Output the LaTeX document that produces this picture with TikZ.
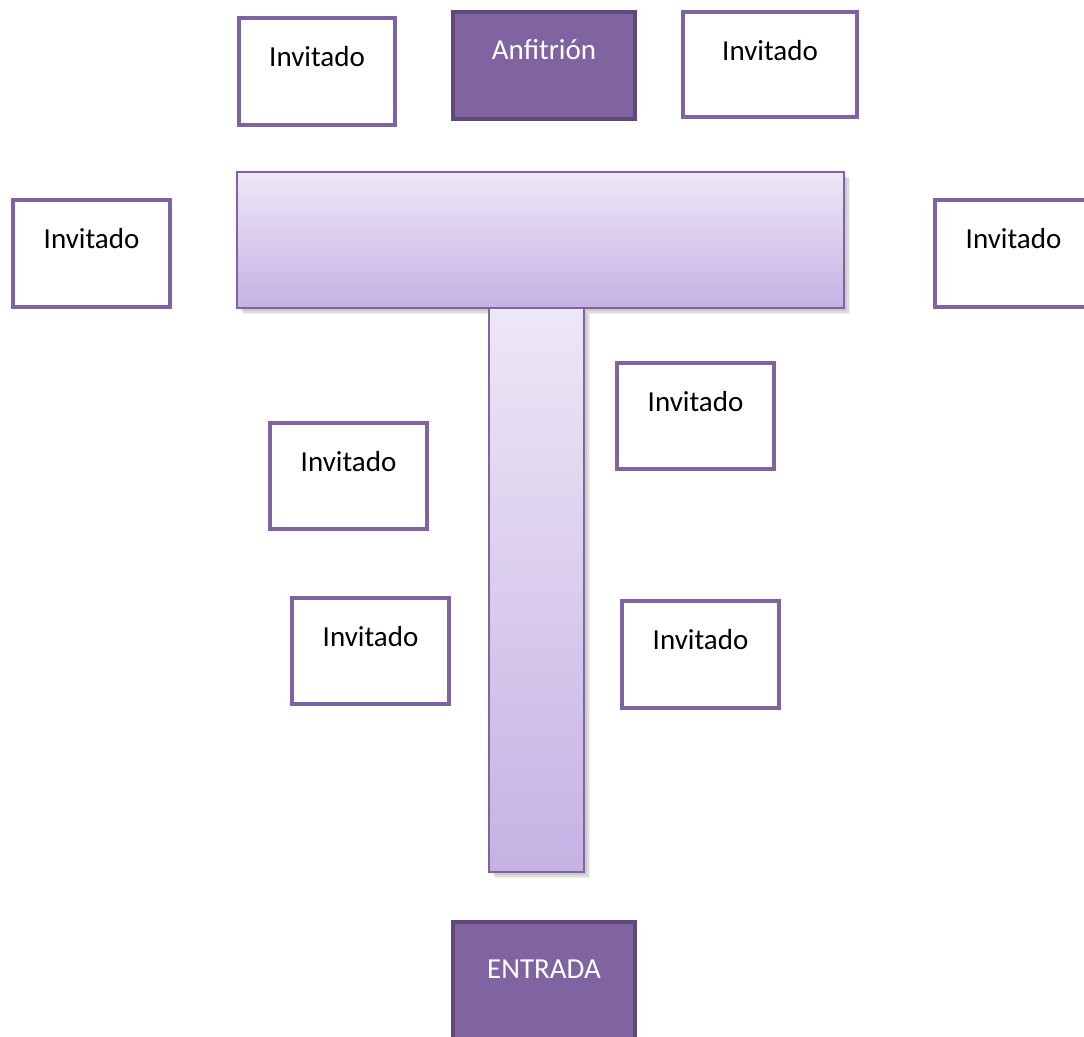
\documentclass[tikz,border=0pt]{standalone}
\usepackage{fontspec}
\setmainfont{Carlito}
\definecolor{purp}{HTML}{8064A2}
\definecolor{purpdark}{HTML}{5F497A}
\definecolor{lavtop}{HTML}{EEE7F6}
\definecolor{lavbot}{HTML}{C5B2E4}
\begin{document}
\begin{tikzpicture}[x=1pt,y=-1pt,
  txt/.style={font=\fontsize{29}{34}\selectfont, inner sep=0pt},
  guest/.style={draw=purp, line width=4.5pt, fill=white, rectangle,
    minimum width=157pt, minimum height=107pt, inner sep=0pt,
    label={[txt, anchor=center, yshift=-41pt]north:Invitado}},
  hostbox/.style={draw=purpdark, line width=4.5pt, fill=purp, rectangle,
    minimum width=182pt, minimum height=107pt, inner sep=0pt},
  tablepart/.style={draw=purp, line width=1.5pt, rectangle, inner sep=0pt,
    top color=lavtop, bottom color=lavbot},
  shade/.style={fill=black, opacity=0.07, draw=none}]
  \useasboundingbox (0,0) rectangle (1084,1036);
  \begin{scope}
  \clip (0,0) rectangle (1084,1036);

  % table shadow
  \foreach \d in {1,2.5,4}{
    \fill[shade] (239+\d,174+\d) rectangle (846+\d,310+\d);
    \fill[shade] (491+\d,310+\d) rectangle (586+\d,874+\d);
  }

  % T-shaped table
  \node[tablepart, minimum width=95pt, minimum height=564pt] (stem) at (536.5,590) {};
  \node[tablepart, minimum width=607pt, minimum height=136pt] (bar) at (540.5,240) {};

  % host and entrance
  \node[hostbox, label={[txt, text=white, anchor=center, yshift=-40pt]north:Anfitrión}] (host) at (544,65.5) {};
  \node[hostbox, minimum height=130pt,
        label={[txt, text=white, anchor=center, yshift=-49pt]north:ENTRADA}] (entrada) at (544,987) {};

  % guests
  \node[guest, minimum width=156pt] (g1) at (317,71.5) {};
  \node[guest, minimum width=174pt, minimum height=105pt] (g2) at (770,64.5) {};
  \node[guest] (g3) at (91.5,253.5) {};
  \node[guest] (g4) at (1013.5,253.5) {};
  \node[guest, minimum height=106pt] (g5) at (695.5,416) {};
  \node[guest, minimum height=106pt] (g6) at (348.5,476) {};
  \node[guest, minimum height=106pt] (g7) at (370.5,651) {};
  \node[guest, minimum height=107pt] (g8) at (700.5,654.5) {};
  \end{scope}
\end{tikzpicture}
\end{document}
